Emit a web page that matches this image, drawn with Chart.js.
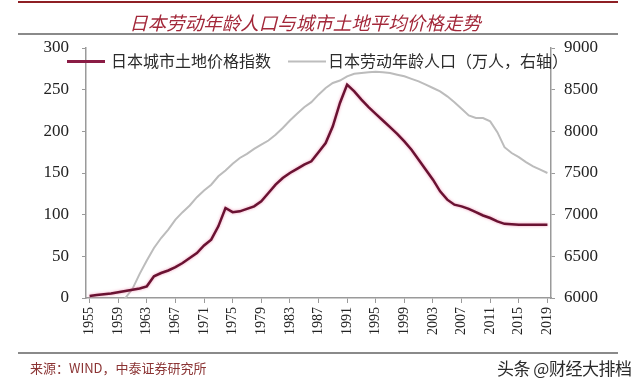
<!DOCTYPE html>
<html>
<head>
<meta charset="utf-8">
<script src="https://cdn.jsdelivr.net/npm/chart.js@4/dist/chart.umd.min.js"></script>
<style>
  html, body { margin: 0; padding: 0; background: #fff; }
  #wrap { position: relative; width: 640px; height: 378px; overflow: hidden; background: #fff; }
  #c { position: absolute; left: 0; top: 0; }
  .hl { position: absolute; }
  #title { position: absolute; left: 0; width: 610px; top: 9px; text-align: center;
    font: italic 18.5px "Noto Sans CJK SC"; color: #a3283a; }
  #src { position: absolute; left: 30px; top: 358px; font: 13px "Noto Sans CJK SC"; color: #8b3434; }
  #wm { position: absolute; left: 497px; top: 355px; font: 17px "Noto Sans CJK SC"; color: #2a2a2a;
    text-shadow: 0 0 2px #fff, 0 0 2px #fff; letter-spacing: -0.5px; }
</style>
</head>
<body>
<div id="wrap">
  <canvas id="c" width="640" height="378"></canvas>
  <div class="hl" style="left:18px;top:1px;width:600px;height:2px;background:#8e1f24;"></div>
  <div id="title">日本劳动年龄人口与城市土地平均价格走势</div>
  <div class="hl" style="left:18px;top:33px;width:600px;height:1.5px;background:#8a8a8a;"></div>
  <div class="hl" style="left:18px;top:352px;width:600px;height:1.5px;background:#8a8a8a;"></div>
  <div id="src">来源：WIND，中泰证券研究所</div>
  <div id="wm">头条 @财经大排档</div>
</div>
<script>
const years = [];
for (let y = 1955; y <= 2019; y++) years.push(String(y));

const landPriceIndex = [
  2.5, 3.5, 4.5, 5.5, 7, 8.5, 10, 11.5, 14, 26,
  30, 33, 37, 42, 48, 54, 63, 70, 86, 108,
  103, 104, 107, 110, 116, 126, 136, 144, 150, 155,
  160, 164, 175, 186, 206, 234, 256, 248, 238, 229,
  221, 213, 205, 197, 188, 178, 166, 154, 142, 128,
  118, 112, 110, 107, 103, 99, 96, 92, 89, 88.5,
  88, 88, 88, 88, 88
];

const workingAgePop = [
  5500, 5600, 5700, 5800, 5900, 6000, 6110, 6290, 6450, 6600,
  6720, 6820, 6940, 7030, 7110, 7210, 7290, 7360, 7460, 7530,
  7610, 7680, 7730, 7790, 7840, 7890, 7960, 8040, 8130, 8210,
  8290, 8350, 8440, 8520, 8580, 8610, 8660, 8690, 8700, 8710,
  8715, 8710, 8700, 8680, 8660, 8630, 8600, 8560, 8520, 8480,
  8420, 8350, 8270, 8190, 8160, 8160, 8120, 7990, 7810, 7740,
  7690, 7630, 7580, 7540, 7500
];

const leftTicks = [0, 50, 100, 150, 200, 250, 300];
const rightTicks = [6000, 6500, 7000, 7500, 8000, 8500, 9000];

const seriesLabels = ['日本城市土地价格指数', '日本劳动年龄人口（万人，右轴）'];

const axisColor = '#9a9a9a';
const serif = 'Liberation Serif';

const glowPlugin = {
  id: 'glow',
  beforeDatasetDraw(chart, args) {
    if (args.index === 0) {
      chart.ctx.save();
      chart.ctx.shadowColor = 'rgba(235,120,160,0.75)';
      chart.ctx.shadowBlur = 3;
    }
  },
  afterDatasetDraw(chart, args) {
    if (args.index === 0) chart.ctx.restore();
  }
};

const legendPlugin = {
  id: 'customLegend',
  afterDraw(chart) {
    const ctx = chart.ctx;
    const ds = chart.data.datasets;
    const items = [
      { x0: 67, x1: 105, tx: 111, color: '#8a1c45', w: 3, label: ds[0].label },
      { x0: 288, x1: 326, tx: 328, color: '#bdbdbd', w: 2, label: ds[1].label }
    ];
    ctx.save();
    items.forEach(it => {
      ctx.beginPath();
      ctx.strokeStyle = it.color;
      ctx.lineWidth = it.w;
      ctx.moveTo(it.x0, 61.5);
      ctx.lineTo(it.x1, 61.5);
      ctx.stroke();
      ctx.fillStyle = '#2b2b2b';
      ctx.font = '16px "Noto Sans CJK SC"';
      ctx.textBaseline = 'middle';
      ctx.textAlign = 'left';
      ctx.fillText(it.label, it.tx, 61);
    });
    ctx.restore();
  }
};

new Chart(document.getElementById('c'), {
  type: 'line',
  data: {
    labels: years,
    datasets: [
      {
        label: seriesLabels[0],
        data: landPriceIndex,
        yAxisID: 'y',
        borderColor: '#6a1232',
        borderWidth: 2.5,
        pointRadius: 0,
        tension: 0,
        order: 0
      },
      {
        label: seriesLabels[1],
        data: workingAgePop,
        yAxisID: 'y1',
        borderColor: '#bcbcbc',
        borderWidth: 2,
        pointRadius: 0,
        tension: 0,
        order: 1
      }
    ]
  },
  options: {
    responsive: false,
    animation: false,
    devicePixelRatio: 1,
    layout: { padding: { top: 48, left: 0, right: 0, bottom: 0 } },
    plugins: {
      legend: { display: false },
      title: { display: false },
      tooltip: { enabled: false }
    },
    scales: {
      x: {
        type: 'category',
        offset: true,
        grid: { display: true, drawOnChartArea: false, drawTicks: true, tickLength: 5, color: axisColor, offset: false },
        border: { display: true, color: axisColor, width: 1.5 },
        ticks: {
          autoSkip: false,
          minRotation: 90,
          maxRotation: 90,
          padding: 4,
          color: '#222',
          font: { family: serif, size: 14 },
          callback(value, index) {
            const yr = Number(this.getLabelForValue(value));
            return (yr - 1955) % 4 === 0 ? String(yr) : null;
          }
        },
        afterFit(scale) { scale.height = 80; }
      },
      y: {
        position: 'left',
        min: 0,
        max: 300,
        grid: { display: true, drawOnChartArea: false, tickLength: 4, color: axisColor },
        border: { display: true, color: axisColor, width: 1.5 },
        afterBuildTicks(scale) { scale.ticks = leftTicks.map(v => ({ value: v })); },
        ticks: {
          padding: 13,
          color: '#222',
          font: { family: serif, size: 17 },
          callback(v) { return String(v); }
        },
        afterFit(scale) { scale.width = 86; }
      },
      y1: {
        position: 'right',
        min: 6000,
        max: 9000,
        grid: { display: true, drawOnChartArea: false, tickLength: 4, color: axisColor },
        border: { display: true, color: axisColor, width: 1.5 },
        afterBuildTicks(scale) { scale.ticks = rightTicks.map(v => ({ value: v })); },
        ticks: {
          padding: 9,
          color: '#222',
          font: { family: serif, size: 17 },
          callback(v) { return String(v); }
        },
        afterFit(scale) { scale.width = 89; }
      }
    }
  },
  plugins: [glowPlugin, legendPlugin]
});
</script>
</body>
</html>
